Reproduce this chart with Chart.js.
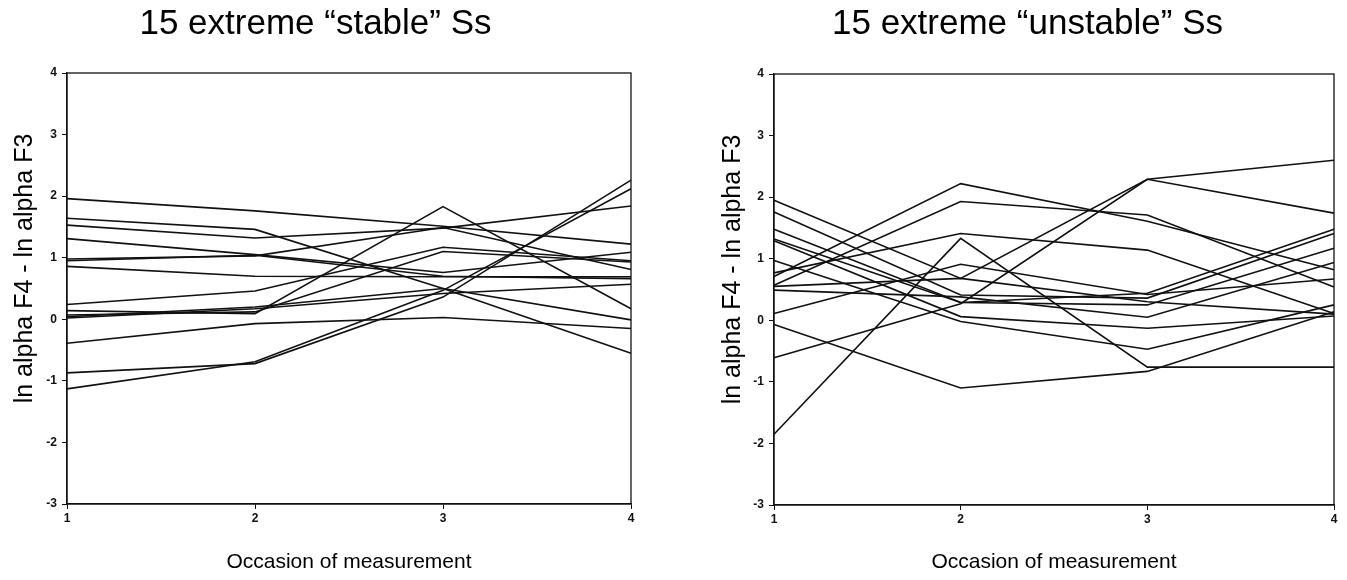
<!DOCTYPE html>
<html>
<head>
<meta charset="utf-8">
<script src="https://cdn.jsdelivr.net/npm/chart.js@4.4.1/dist/chart.umd.min.js"></script>
<style>
  html, body { margin: 0; padding: 0; background: #fff; }
  body { width: 1347px; height: 580px; position: relative; overflow: hidden; }
  canvas { position: absolute; top: 0; }
  #stableChart { left: 0; }
  #unstableChart { left: 721px; }
</style>
</head>
<body>
<canvas id="stableChart" width="660" height="580"></canvas>
<canvas id="unstableChart" width="626" height="580"></canvas>
<script>
// Occasions of measurement (x axis)
const occasions = ['1', '2', '3', '4'];
const yTicks = [-3, -2, -1, 0, 1, 2, 3, 4];

// 15 extreme "stable" subjects: ln alpha F4 - ln alpha F3 per occasion
const stable01 = [1.96, 1.76, 1.51, 1.22];
const stable02 = [1.64, 1.46, 0.50, -0.55];
const stable03 = [1.53, 1.32, 1.48, 1.84];
const stable04 = [1.31, 1.05, 0.76, 1.09];
const stable05 = [0.98, 1.03, 1.49, 0.81];
const stable06 = [0.95, 1.04, 0.70, 0.66];
const stable07 = [0.86, 0.70, 0.69, 0.69];
const stable08 = [0.24, 0.46, 1.17, 0.95];
const stable09 = [0.14, 0.09, 1.83, 0.17];
const stable10 = [0.07, 0.12, 1.10, 0.93];
const stable11 = [0.04, 0.20, 0.50, -0.01];
const stable12 = [0.02, 0.17, 0.42, 0.57];
const stable13 = [-0.39, -0.07, 0.03, -0.15];
const stable14 = [-0.87, -0.72, 0.36, 2.26];
const stable15 = [-1.13, -0.69, 0.47, 2.12];

// 15 extreme "unstable" subjects
const unstable01 = [1.95, 0.68, 2.29, 1.74];
const unstable02 = [1.76, 0.41, 0.36, 1.41];
const unstable03 = [1.48, 0.29, 0.25, 1.17];
const unstable04 = [1.32, 0.29, 0.44, 1.48];
const unstable05 = [1.29, 0.06, -0.13, 0.07];
const unstable06 = [0.97, -0.02, -0.47, 0.25];
const unstable07 = [0.71, 2.22, 1.61, 0.82];
const unstable08 = [0.57, 1.93, 1.71, 0.54];
const unstable09 = [0.77, 1.41, 1.14, 0.11];
const unstable10 = [0.49, 0.38, 0.05, 0.94];
const unstable11 = [0.11, 0.91, 0.42, 0.67];
const unstable12 = [-0.07, -1.10, -0.83, 0.14];
const unstable13 = [-0.61, 0.27, 2.29, 2.60];
const unstable14 = [-1.85, 1.33, -0.76, -0.76];
const unstable15 = [0.55, 0.68, 0.30, 0.10];

const stableSeries = [stable01, stable02, stable03, stable04, stable05, stable06, stable07, stable08,
  stable09, stable10, stable11, stable12, stable13, stable14, stable15];
const unstableSeries = [unstable01, unstable02, unstable03, unstable04, unstable05, unstable06, unstable07,
  unstable08, unstable09, unstable10, unstable11, unstable12, unstable13, unstable14, unstable15];

const FONT = "'Liberation Sans', Arial, Helvetica, sans-serif";
const INK = '#111';
const Y_TITLE = 'ln alpha F4 - ln alpha F3';

// box round the plot area + the y axis title, which sits a bit above the middle in the original
const framePlugin = {
  id: 'frame',
  afterDraw(chart, args, opts) {
    const { ctx, chartArea: a } = chart;
    ctx.save();
    ctx.strokeStyle = INK;
    ctx.lineWidth = 1.3;
    ctx.strokeRect(a.left, a.top, a.right - a.left, a.bottom - a.top);

    ctx.translate(opts.titleX, (a.top + a.bottom) / 2 - 20);
    ctx.rotate(-Math.PI / 2);
    ctx.fillStyle = '#000';
    ctx.font = '25px ' + FONT;
    ctx.textAlign = 'center';
    ctx.textBaseline = 'middle';
    ctx.fillText(Y_TITLE, 0, 0);
    ctx.restore();
  }
};

function makeChart(canvasId, title, series, cfg) {
  return new Chart(document.getElementById(canvasId), {
    type: 'line',
    data: {
      labels: occasions,
      datasets: series.map((vals, i) => ({
        label: 'S' + (i + 1),
        data: vals,
        borderColor: INK,
        borderWidth: 1.6,
        pointRadius: 0,
        tension: 0,
        fill: false
      }))
    },
    options: {
      responsive: false,
      animation: false,
      layout: { padding: { left: 0, right: cfg.padRight, top: 0, bottom: 0 } },
      plugins: {
        legend: { display: false },
        tooltip: { enabled: false },
        frame: { titleX: cfg.yTitleX },
        title: {
          display: true,
          text: title,
          color: '#000',
          font: { family: FONT, size: 35, weight: 'normal', lineHeight: 1 },
          padding: { top: 7, bottom: cfg.titleBottom }
        }
      },
      scales: {
        x: {
          type: 'category',
          offset: false,
          afterFit: s => { s.height = cfg.xHeight; },
          grid: { drawOnChartArea: false, drawTicks: true, tickLength: 5, color: INK },
          border: { display: true, color: INK, width: 1.3 },
          ticks: { color: INK, padding: 2, maxRotation: 0, font: { family: FONT, size: 12, weight: 'bold' } },
          title: {
            display: true,
            text: 'Occasion of measurement',
            color: '#000',
            font: { family: FONT, size: 21, lineHeight: 1 },
            padding: { top: 0, bottom: 7 }
          }
        },
        y: {
          min: -3,
          max: 4,
          afterFit: s => { s.width = cfg.yWidth; },
          afterBuildTicks: s => { s.ticks = yTicks.map(v => ({ value: v })); },
          grid: { drawOnChartArea: false, drawTicks: true, tickLength: 5, color: INK },
          border: { display: true, color: INK, width: 1.3 },
          ticks: { color: INK, padding: 5, font: { family: FONT, size: 12, weight: 'bold' } }
        }
      }
    },
    plugins: [framePlugin]
  });
}

makeChart('stableChart', '15 extreme \u201cstable\u201d Ss', stableSeries,
  { padRight: 29, titleBottom: 31, xHeight: 76, yWidth: 67, yTitleX: 25 });
makeChart('unstableChart', '15 extreme \u201cunstable\u201d Ss', unstableSeries,
  { padRight: 13, titleBottom: 32, xHeight: 75, yWidth: 53, yTitleX: 12 });
</script>
</body>
</html>
